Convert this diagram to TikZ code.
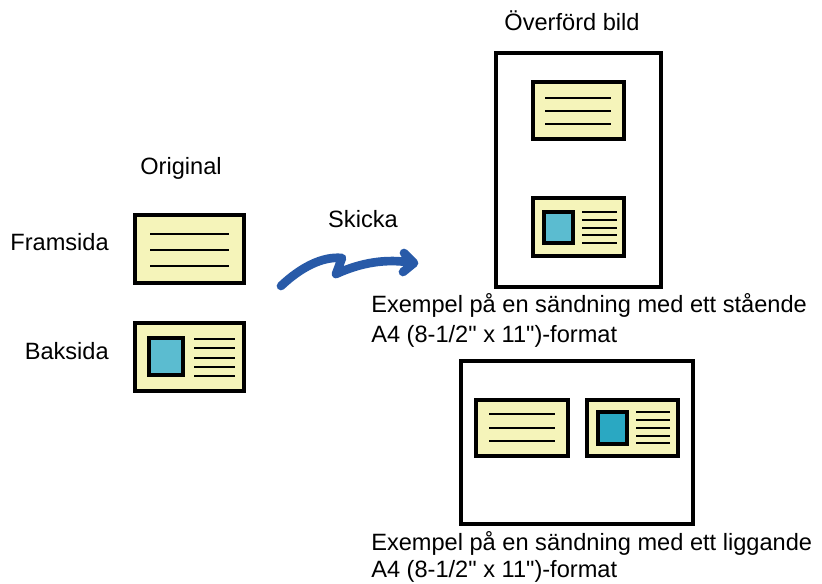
\documentclass[tikz,border=0pt]{standalone}
\usepackage{fontspec}
\setmainfont{Liberation Sans}
\newfontfamily\lblfont{Liberation Sans}
\definecolor{cardyellow}{RGB}{245,244,186}
\definecolor{photoblue}{RGB}{91,188,208}
\definecolor{phototeal}{RGB}{42,168,194}
\definecolor{arrowblue}{RGB}{40,90,168}
\tikzset{
  lbl/.style={inner sep=0pt, font=\lblfont\fontsize{17.7pt}{21pt}\selectfont},
  card/.style={draw=black, fill=cardyellow, line width=2.6pt},
  page/.style={draw=black, fill=white, line width=2.6pt},
  photo/.style={draw=black, line width=2.6pt},
  txtline/.style={draw=black, line width=2.1pt},
  bigarrow/.style={draw=arrowblue, line width=6.5pt, line cap=round, line join=round}
}
\begin{document}
\begin{tikzpicture}[x=0.75pt,y=-0.75pt]
\useasboundingbox (0,0) rectangle (822,584);
% labels
\node[lbl, anchor=base] (orig) at (181,175) {Original};
\node[lbl, anchor=base east] (fram) at (109,251) {Framsida};
\node[lbl, anchor=base east] (bak) at (109,360) {Baksida};
\node[lbl, anchor=base] (overf) at (572,31) {Överförd bild};
\node[lbl, anchor=base] (skicka) at (363,228) {Skicka};
\node[lbl, anchor=base west] (ex1a) at (371,313) {Exempel på en sändning med ett stående};
\node[lbl, anchor=base west] (ex1b) at (371,343) {A4 (8-1/2" x 11")-format};
\node[lbl, anchor=base west] (ex2a) at (371,551) {Exempel på en sändning med ett liggande};
\node[lbl, anchor=base west] (ex2b) at (371,578) {A4 (8-1/2" x 11")-format};
% original front
\path[card] (135,215) rectangle (244,283);
\foreach \y in {234,250,266} \path[txtline] (150,\y) -- (229,\y);
% original back
\path[card] (135,323) rectangle (244,391);
\path[photo, fill=photoblue] (149,338) rectangle (183,375);
\foreach \y in {339,348,358,367,376} \path[txtline] (194,\y) -- (235,\y);
% portrait page
\path[page] (496,53) rectangle (661,287);
\path[card] (533,82) rectangle (624,139);
\foreach \y in {98,111,124} \path[txtline] (545,\y) -- (611,\y);
\path[card] (533,198) rectangle (624,256);
\path[photo, fill=photoblue] (544,212) rectangle (573,243);
\foreach \y in {212,220,228,235,243} \path[txtline] (582,\y) -- (617,\y);
% landscape page
\path[page] (461,361) rectangle (693,524);
\path[card] (476,400) rectangle (568,456);
\foreach \y in {414,428,441} \path[txtline] (489,\y) -- (555,\y);
\path[card] (587,400) rectangle (678,456);
\path[photo, fill=phototeal] (598,412) rectangle (627,444);
\foreach \y in {412,420,428,436,443} \path[txtline] (636,\y) -- (670,\y);
% arrow
\path[bigarrow] (281,286) .. controls (300,268) and (322,256) .. (342,258) -- (336,274) .. controls (360,263) and (386,258) .. (413,263);
\path[bigarrow] (404,253) -- (414,263) -- (403,272);
\end{tikzpicture}
\end{document}
